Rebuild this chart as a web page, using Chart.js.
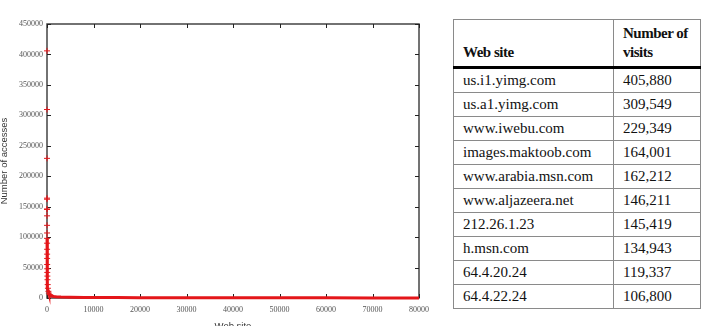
<!DOCTYPE html>
<html>
<head>
<meta charset="utf-8">
<script src="https://cdn.jsdelivr.net/npm/chart.js@4.4.0/dist/chart.umd.min.js"></script>
<style>
  body { margin: 0; background: #fff; width: 705px; height: 326px; overflow: hidden; position: relative; }
  #plot { position: absolute; left: 0; top: 0; }
  #sites {
    position: absolute; left: 453px; top: 19px;
    border-collapse: collapse;
    font-family: "Liberation Serif", "DejaVu Serif", serif; font-size: 15px; color: #111;
  }
  #sites th, #sites td { border: 1px solid #8a8a8a; padding: 0 0 0 9px; text-align: left; white-space: nowrap; }
  #sites th { font-weight: bold; letter-spacing: -0.5px; line-height: 19px; vertical-align: bottom; padding-bottom: 4px; height: 42px; border-bottom: 3px solid #000; }
  #sites td { height: 23px; }
  #sites .c1 { width: 150px; }
  #sites .c2 { width: 77px; }
</style>
</head>
<body>
<canvas id="plot" width="440" height="326"></canvas>
<table id="sites">
  <thead><tr><th class="c1">Web site</th><th class="c2">Number of<br>visits</th></tr></thead>
  <tbody id="site-rows"></tbody>
</table>
<script>
// top ten sites (table) - also the first ten points of the curve
const topSites = ['us.i1.yimg.com', 'us.a1.yimg.com', 'www.iwebu.com', 'images.maktoob.com',
  'www.arabia.msn.com', 'www.aljazeera.net', '212.26.1.23', 'h.msn.com', '64.4.20.24', '64.4.22.24'];
const topVisits = [405880, 309549, 229349, 164001, 162212, 146211, 145419, 134943, 119337, 106800];

// rest of the rank / accesses curve
const tailRanks = [12, 15, 20, 25, 30, 40, 50, 60, 80, 100, 150, 200, 300, 400, 600, 800, 1000, 1500,
  2000, 3000, 5000, 8000, 10000, 12000, 15000, 20000, 30000, 40000, 50000, 60000, 70000, 80000];
const tailVisits = [98000, 90000, 80000, 72000, 65000, 55000, 48000, 42000, 36000, 30000, 22000, 16000,
  11000, 8000, 5500, 4200, 3300, 2400, 1900, 1500, 1200, 1000, 900, 800, 700, 600, 500, 400, 300, 250, 200, 150];

const ranks = topVisits.map((v, i) => i + 1).concat(tailRanks);
const accesses = topVisits.concat(tailVisits);

const xMax = 80000, xStep = 10000;
const yMax = 450000, yStep = 50000;

// table
const tbody = document.getElementById('site-rows');
topSites.forEach((s, i) => {
  const tr = document.createElement('tr');
  tr.innerHTML = `<td class="c1">${s}</td><td class="c2">${topVisits[i].toLocaleString('en-US')}</td>`;
  tbody.appendChild(tr);
});

// gnuplot-like frame with inward ticks on all four sides
const frameTicks = {
  id: 'frameTicks',
  beforeDatasetsDraw(chart) {
    const { ctx, chartArea: a, scales: { x, y } } = chart;
    ctx.save();
    ctx.strokeStyle = '#444';
    ctx.lineWidth = 1.5;
    ctx.strokeRect(a.left, a.top, a.right - a.left, a.bottom - a.top);
    ctx.strokeStyle = '#222';
    ctx.lineWidth = 1;
    ctx.beginPath();
    x.ticks.forEach(t => {
      const px = Math.round(x.getPixelForValue(t.value)) + 0.5;
      ctx.moveTo(px, a.bottom); ctx.lineTo(px, a.bottom - 4);
      ctx.moveTo(px, a.top); ctx.lineTo(px, a.top + 4);
    });
    y.ticks.forEach(t => {
      const py = Math.round(y.getPixelForValue(t.value)) + 0.5;
      ctx.moveTo(a.left, py); ctx.lineTo(a.left + 4, py);
      ctx.moveTo(a.right, py); ctx.lineTo(a.right - 4, py);
    });
    ctx.stroke();
    ctx.restore();
  }
};

const tickFont = { family: '"Liberation Serif", serif', size: 8 };
const titleFont = { family: '"Liberation Sans", Arial, sans-serif', size: 9.5 };
const plain = v => String(v);

new Chart(document.getElementById('plot'), {
  type: 'scatter',
  data: {
    datasets: [{
      data: ranks.map((r, i) => ({ x: r, y: accesses[i] })),
      showLine: true,
      borderColor: 'rgb(228,22,26)',
      backgroundColor: 'rgb(228,22,26)',
      borderWidth: 3,
      // the biggest sites show as separate marks, the line only starts lower down
      segment: { borderColor: c => (c.p0.parsed.y > 100000 ? 'rgba(0,0,0,0)' : undefined) },
      pointStyle: 'cross',
      pointRadius: c => (c.raw && c.raw.y > 5000 ? 3 : 0),
      pointBorderWidth: 1,
      clip: false
    }]
  },
  options: {
    responsive: false,
    animation: false,
    devicePixelRatio: 1,
    layout: { padding: { left: 0, right: 21, top: 24, bottom: 0 } },
    plugins: { legend: { display: false }, tooltip: { enabled: false } },
    scales: {
      x: {
        type: 'linear', min: 0, max: xMax,
        grid: { display: false, drawTicks: false, tickLength: 0 },
        border: { display: false },
        ticks: { stepSize: xStep, font: tickFont, color: '#555', padding: 7, maxRotation: 0, callback: plain },
        title: { display: true, text: 'Web site', font: titleFont, color: '#333', padding: { top: 0, bottom: -6 } },
        afterFit: s => { s.height = 28; }
      },
      y: {
        type: 'linear', min: 0, max: yMax,
        grid: { display: false, drawTicks: false, tickLength: 0 },
        border: { display: false },
        ticks: { stepSize: yStep, font: tickFont, color: '#555', padding: 4, callback: plain },
        title: { display: true, text: 'Number of accesses', font: titleFont, color: '#333', padding: { top: -1, bottom: 0 } },
        afterFit: s => { s.width = 47; }
      }
    }
  },
  plugins: [frameTicks]
});
</script>
</body>
</html>
